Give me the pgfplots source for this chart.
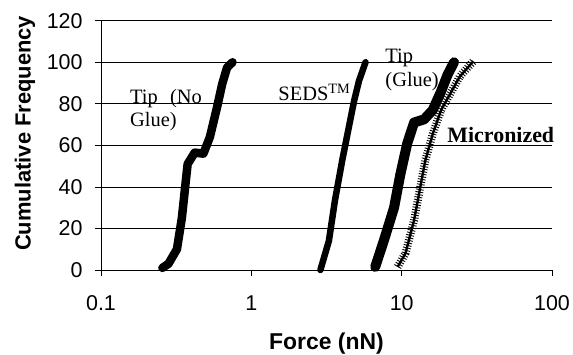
\documentclass[border=0pt]{standalone}
\usepackage{fontspec}
\setmainfont{Liberation Serif}
\setsansfont{Liberation Sans}
\usepackage{pgfplots}
\pgfplotsset{compat=1.18}
\begin{document}
\begin{tikzpicture}
\path[use as bounding box] (0,0) rectangle (573bp,355bp);
\begin{axis}[
  at={(101bp,85bp)}, anchor=south west,
  scale only axis, width=451bp, height=249.3bp,
  xmode=log, xmin=0.1, xmax=100, ymin=0, ymax=120,
  axis x line=bottom, axis y line=left,
  axis line style={-, line width=0.8pt},
  xtick={0.1,1,10,100}, xticklabels={0.1,1,10,100},
  xminorticks=false,
  ytick={0,20,...,120},
  ymajorgrids, grid style={black, line width=0.8pt},
  tick style={black, line width=0.8pt},
  tick align=outside, major tick length=6bp,
  ticklabel style={font=\sffamily\fontsize{21.5}{25}\selectfont},
  xticklabel style={yshift=-16bp},
  yticklabel style={xshift=-9bp},
  /pgf/number format/assume math mode=true,
  xlabel={Force (nN)}, ylabel={Cumulative Frequency},
  xlabel style={font=\sffamily\bfseries\fontsize{23}{26}\selectfont,
    at={([yshift=-74bp]axis description cs:0.5,0)}, anchor=center},
  ylabel style={font=\sffamily\bfseries\fontsize{22}{26}\selectfont,
    at={([xshift=-76bp,yshift=12bp]axis description cs:0,0.5)}, anchor=center},
  clip=false,
]
% Tip (No Glue)
\addplot[black, line width=8.5bp, line join=round, line cap=round] coordinates {
(0.256,1)(0.281,3)(0.32,10)(0.345,25)(0.363,40)(0.377,51)(0.42,56.5)(0.48,56)(0.53,64)(0.59,78)(0.64,89.5)(0.69,97.5)(0.75,100)};
% SEDS
\addplot[black, line width=6.5bp, line join=round, line cap=round] coordinates {
(2.88,0)(3.28,14)(3.6,33.5)(4.03,53)(4.46,69)(4.83,81.5)(5.2,91)(5.75,100)};
% Tip (Glue)
\addplot[black, line width=10bp, line join=round, line cap=round] coordinates {
(6.67,1.5)(7.6,14)(8.9,30)(9.8,46)(10.9,61)(12.1,71)(14.1,72.5)(16.1,77)(18.3,86)(20.2,94)(22.3,100)};
% Micronized
\addplot[black, line width=2.4bp, line join=round,
  postaction={draw, line width=8bp, dash pattern=on 0.9bp off 1.7bp}] coordinates {
(9.4,1.5)(10.6,8)(12.1,24)(13.3,40)(14.4,53)(16.1,65.5)(18.3,77)(21.1,85)(24.3,93)(30,100.5)};

\node[anchor=west, align=left, inner sep=0, font=\fontsize{20.5}{23}\selectfont] at (axis cs:0.156,77) {Tip\hspace{0.6em}(No\\Glue)};
\node[anchor=west, inner sep=0, font=\fontsize{20.5}{23}\selectfont] at (axis cs:1.51,85.5) {SEDS\textsuperscript{TM}};
\node[anchor=west, align=left, inner sep=0, font=\fontsize{20.5}{24}\selectfont] at (axis cs:7.78,96.3) {Tip\\(Glue)};
\node[anchor=west, inner sep=0, font=\bfseries\fontsize{22}{24}\selectfont] at (axis cs:20.1,65) {Micronized};
\end{axis}
\end{tikzpicture}
\end{document}
